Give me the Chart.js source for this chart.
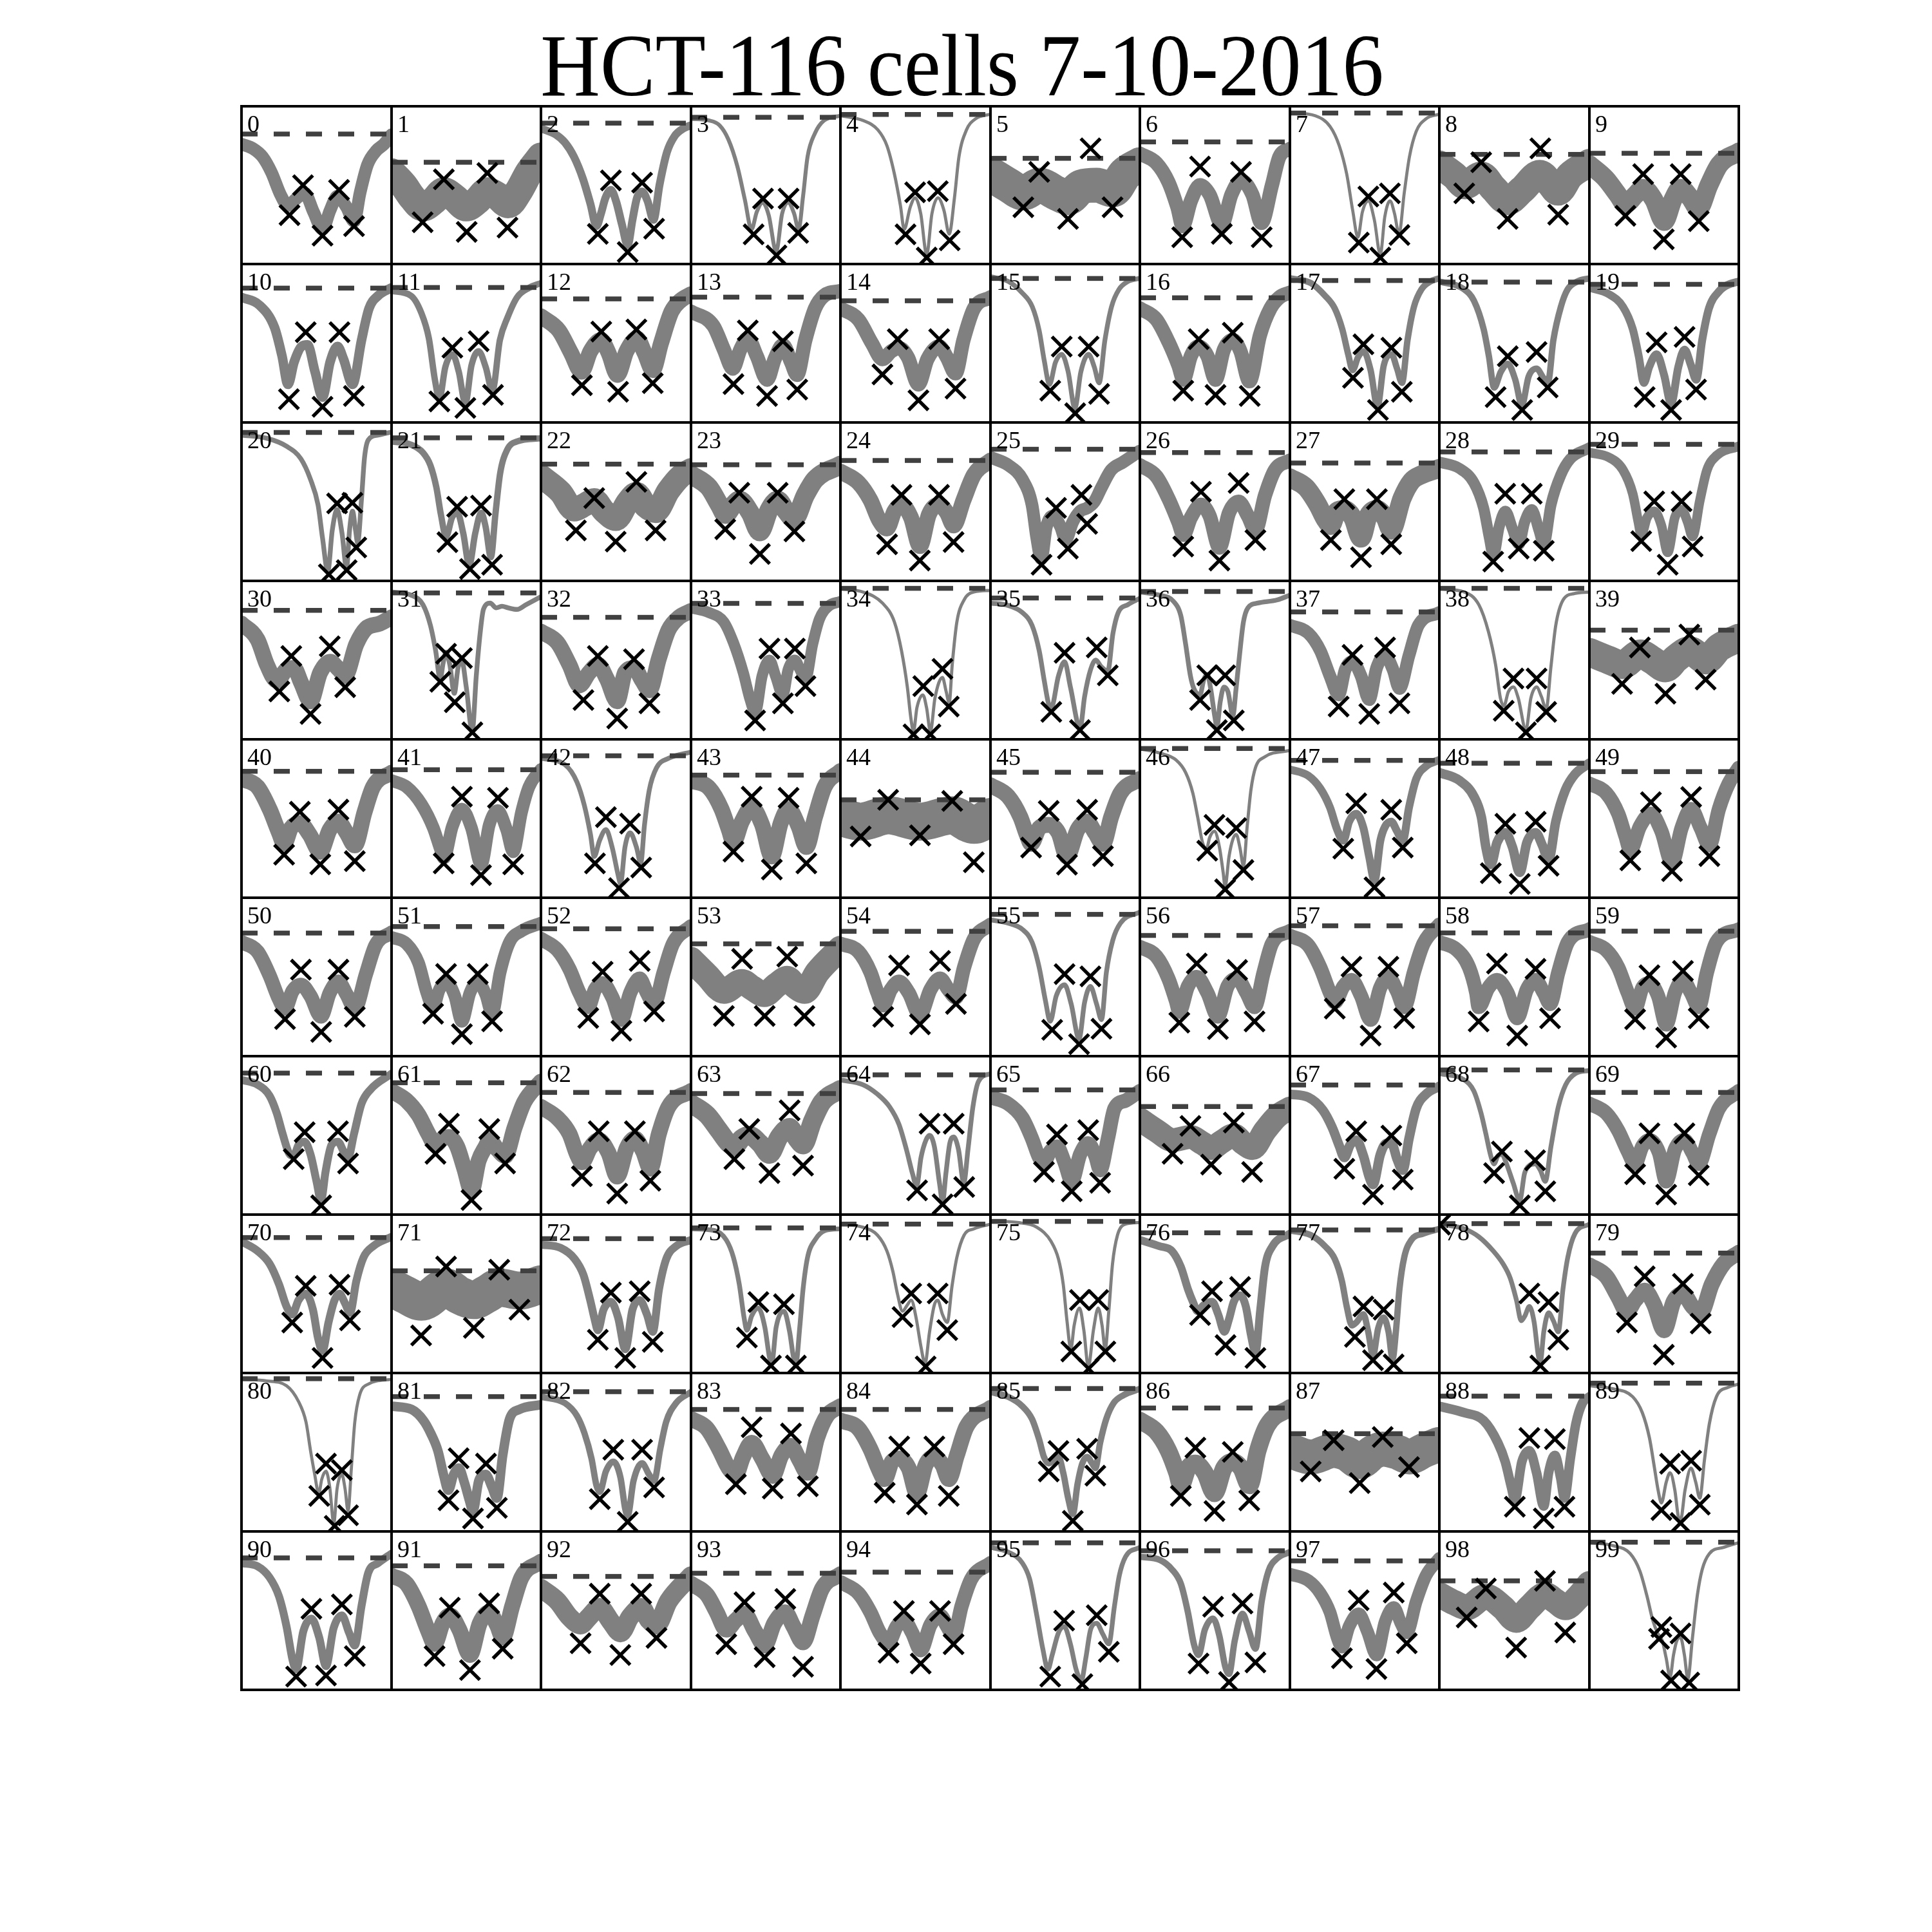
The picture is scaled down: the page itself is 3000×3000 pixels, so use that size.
<!DOCTYPE html>
<html>
<head>
<meta charset="utf-8">
<script src="https://cdn.jsdelivr.net/npm/chart.js@4/dist/chart.umd.min.js"></script>
<style>
html,body{margin:0;padding:0;background:#fff;}
#page{position:relative;width:3000px;height:3000px;background:#fff;overflow:hidden;}
.panel{position:absolute;}
.panel canvas{display:block;}
.gl{position:absolute;background:#000;}
.lbl{position:absolute;font-family:"Liberation Serif","DejaVu Serif",serif;font-size:38px;line-height:1;color:#000;white-space:nowrap;}
#title{position:absolute;left:0;top:33px;width:2988px;text-align:center;font-family:"Liberation Serif","DejaVu Serif",serif;font-size:138px;line-height:1;color:#000;white-space:nowrap;transform:scaleX(0.93);transform-origin:50% 50%;}
</style>
</head>
<body>
<div id="page"></div>
<script>
const chartTitle = "HCT-116 cells 7-10-2016";
const panelLabels = ["0","1","2","3","4","5","6","7","8","9","10","11","12","13","14","15","16","17","18","19","20","21","22","23","24","25","26","27","28","29","30","31","32","33","34","35","36","37","38","39","40","41","42","43","44","45","46","47","48","49","50","51","52","53","54","55","56","57","58","59","60","61","62","63","64","65","66","67","68","69","70","71","72","73","74","75","76","77","78","79","80","81","82","83","84","85","86","87","88","89","90","91","92","93","94","95","96","97","98","99"];
// baseline (dashed) level per panel
const dashLevels = [82.4,64.5,89.3,93,94.8,67.0,77.4,95.7,69.5,70.2,
84.8,85.2,78.0,79.1,76.8,90.9,78.7,89.6,88.6,87.2,
93.7,90.3,73.7,73.3,76.0,83.1,81.0,74.4,81.4,86.2,
81.4,92.4,77.0,85.8,95.3,89.2,93.3,80.4,95.3,68.9,
79.8,80.8,89.6,77.4,61.8,79.2,94.2,86.7,84.9,79.6,
77.7,81.8,80.4,70.9,78.8,89.5,76.2,82.3,77.8,78.9,
89.3,83.2,77.1,76.4,88.2,78.7,68.2,81.8,91.3,77.1,
85.5,64.5,84.8,91.6,94.0,95.7,88.5,90.3,94.3,75.7,
96.4,85.1,88.2,77.0,77.0,90.2,77.9,61.7,85.4,93.6,
83.3,78.3,71.6,73.6,74.3,92.8,87.8,81.4,68.8,93.2];
// noise band thickness per panel (y units)
const noiseBand = [8,18,5,2.5,2,22,9,1.5,18,12,
6,4,10,9,9,3,9,4,4,5,
3,4,15,12,10,8,9,12,7,6,
10,3,10,7,2,3,3,8,2,18,
10,8,3,10,24,10,2,5,6,9,
9,8,9,16,9,3,9,9,9,9,
5,10,10,12,3,9,15,6,3,9,
5,24,5,3,2,2,5,4,3,10,
1.5,6,4,10,10,4,11,22,6,2,
5,10,12,10,9,3,4,8,16,2];

const trace0=[[0,76],[8,73],[14,68],[20,58],[26,44],[31,37],[36,41],[42,45],[48,33],[54,22],[59,34],[64,43],[70,36],[75,27],[79,45],[84,63],[90,72],[95,76],[100,82]];
const marks0=[[32,31],[41,50],[54,18],[65,47],[75,24]];
const trace1=[[0,58],[8,50],[14,42],[21,36],[28,40],[35,46],[42,42],[50,36],[57,40],[64,46],[71,43],[78,38],[85,46],[92,58],[100,68]];
const marks1=[[20.8,26.5],[35,53.7],[50.3,20.4],[64.1,57.7],[77.6,23.1]];
const trace2=[[0,86],[10,82],[16,77],[22,68],[28,54],[33,38],[37,24],[40,32],[43,42],[46.6,47],[50,40],[54,25],[57.8,12],[61,28],[64,42],[67.4,46],[71,40],[75,28],[79,50],[84,71],[89,81],[95,86],[100,88]];
const marks2=[[37.9,19.1],[46.6,53],[57.8,7.6],[67.4,51.6],[75.4,22.4]];
const trace3=[[0,92],[12,91],[19,88],[25,79],[31,62],[36,41],[40.5,22],[44,33],[48,39],[52,31],[57,8],[61,32],[65,39],[69,32],[72,22],[75,43],[78,68],[83,83],[89,91],[100,94]];
const marks3=[[41.9,18.8],[48.2,41.5],[57.2,5.5],[65.3,41.5],[71.7,19.7]];
const trace4=[[0,94],[15,91],[25,85],[31,75],[36,57],[40,37],[42.5,22],[46.5,36],[49.8,42],[53.5,32],[57.5,6],[61,32],[65,42],[69,34],[72.5,19],[76,42],[79,68],[84,85],[90,92],[100,95]];
const marks4=[[43.4,18.8],[49.8,45.5],[57.5,4.1],[64.9,46.2],[72.8,15]];
const trace5=[[0,57],[12,50],[22,45],[33,50],[44,45],[52,42],[61,49],[71,50],[82,47],[90,57],[100,63]];
const marks5=[[22,36],[32.6,58.4],[51.9,28.6],[67,73.3],[81.7,36]];
const trace6=[[0,70],[11,64],[19,52],[25,36],[28.5,24],[34,40],[40,50],[46.5,44],[54.6,25],[61,44],[67.4,53],[75,44],[81,26],[88,50],[93,68],[100,73]];
const marks6=[[28.2,17],[40.1,61.8],[54.6,19.1],[67.4,58.4],[81.2,17]];
const trace7=[[0,96],[17,94],[27,87],[33,75],[38,57],[42,34],[45.5,17],[48.5,33],[52.5,40],[56.5,28],[60.5,6],[63.5,30],[67,40],[70,32],[73,19],[76.5,45],[80,68],[84.5,84],[91,92],[100,95]];
const marks7=[[46.1,13.6],[52.5,42.8],[60.5,4.1],[66.9,44.8],[73.3,18.4]];
const trace8=[[0,63],[10,56],[17,50],[28,56],[36,48],[45.5,40],[55,47],[67,57],[74,51],[79,46],[87,56],[100,64]];
const marks8=[[16.6,44.8],[27.9,64.5],[45.5,28.6],[67.3,73.3],[79.2,31.3]];
const trace9=[[0,63],[11,54],[19,44],[24,38],[31,44],[36,48],[43,41],[50,27],[56,41],[61,48],[67.5,42],[73,35],[80,50],[87,63],[100,71]];
const marks9=[[24.1,30.6],[36,57],[49.8,15.7],[61.1,57],[73.2,27.2]];
const trace10=[[0,79],[12,74],[22,60],[27,42],[31,24],[35,38],[40,48],[44,49],[49,32],[54,16],[59,38],[64,48],[68,40],[74,24],[80,52],[85,72],[91,80],[100,85]];
const marks10=[[31.6,14.7],[42.8,57],[54,9.9],[65.3,57],[74.9,16.7]];
const trace11=[[0,83],[13,80],[20,69],[25,53],[29,27],[32,15],[36,35],[40.7,43],[45,32],[49.4,12],[53.5,36],[58.3,45],[63,35],[67.5,20],[72.5,52],[77.5,66],[84,79],[92,85],[100,88]];
const marks11=[[32,13.3],[40.7,47.2],[49.4,9.2],[58.3,51.3],[67.9,17.4]];
const trace12=[[0,67],[12,58],[20,44],[27,32],[33,45],[40,52],[45,44],[51,30],[57,45],[64,53],[69,44],[74.5,33],[80,50],[87,70],[93,77],[100,81]];
const marks12=[[27.3,23.5],[40.2,57.4],[51.4,19.4],[63.6,58.7],[74.5,24.8]];
const trace13=[[0,70],[15,61],[22,46],[28,34],[33,46],[38,53],[44,42],[51,27],[56,40],[61.5,49],[67,38],[71,30],[76.5,52],[83,72],[89,80],[100,83]];
const marks13=[[28.4,24.2],[38,58.1],[50.9,16.7],[61.5,51.3],[71.1,20.8]];
const trace14=[[0,72],[12,65],[21,50],[28,40],[34,45],[39,47],[45,41],[52,24],[58,40],[65.8,48],[71,41],[76.7,31],[82,52],[89,72],[100,79]];
const marks14=[[28,30.3],[38.2,52.6],[52,14],[65.8,52.6],[76.7,21.4]];
const trace15=[[0,92],[12,89],[21,82],[28,73],[32.6,58],[36,39],[39.5,24],[43.5,38],[47.7,43],[52,32],[56.5,9],[60.5,32],[65.7,43],[69.5,35],[72.7,25],[76.6,52],[81,73],[86,84],[92,89],[100,91]];
const marks15=[[40,20.1],[47.7,47.9],[56.7,5.8],[65.7,47.9],[72.7,18]];
const trace16=[[0,72],[11,65],[19,51],[25.7,36],[29,27],[34,42],[39,48],[45,42],[50.4,27],[56,46],[62,52],[67,45],[73,26],[80,55],[87,72],[93,79],[100,82]];
const marks16=[[28.9,20.1],[39.2,52.6],[50.4,17.4],[61.9,56.7],[73.2,16.7]];
const trace17=[[0,91],[14,88],[23.5,80],[30,72],[35,59],[39,43],[42,33],[45.5,41],[49.2,45],[54,33],[58.6,10],[62.8,36],[68,43],[71.7,34],[75,25],[78.7,52],[83,73],[88,84],[94,89],[100,91]];
const marks17=[[42.2,28.2],[49.2,49.3],[58.9,7.9],[67.9,47.2],[74.9,19.4]];
const trace18=[[0,89],[16.6,84],[23,77],[29.5,59],[33,42],[36.5,22],[41,32],[45.6,37],[50.6,27],[55,11],[59.5,29],[64.8,34],[69.5,28],[72.5,26],[76,52],[81,73],[85.5,84],[92,89],[100,91]];
const marks18=[[37.5,16],[45.6,41.8],[55.2,7.9],[64.8,44.5],[72.2,22.1]];
const trace19=[[0,85],[13,81],[22.5,73],[29,59],[33,42],[36.5,25],[40,35],[45,43],[50,30],[54.7,12],[59.5,35],[63.7,46],[68,36],[71.5,27],[75.5,52],[80,72],[87,83],[93,87],[100,89]];
const marks19=[[37,16],[45,50.6],[54.7,7.9],[63.7,54],[71.4,20.8]];
const trace20=[[0,92],[17,90],[30,85],[39.6,77],[46,64],[51,48],[54,27],[57.5,6],[60.5,32],[63.7,45],[67,30],[70,8],[72,32],[74,44],[76,32],[77.4,24],[80,52],[82,78],[84.5,89],[91,92],[100,94]];
const marks20=[[58.2,4.1],[63.7,48.9],[70.1,6.8],[73.9,49.3],[76.5,21.1]];
const trace21=[[0,88],[13,86],[21,81],[26,73],[30,59],[33,42],[36.5,28],[40.5,40],[44,43],[48,30],[52,10],[56,30],[60,43],[63,34],[66.5,15],[69.5,42],[72.7,68],[77.5,83],[84,88],[100,90]];
const marks21=[[37.4,24.4],[43.9,46.8],[52.5,7.5],[59.9,47.5],[67.3,10.2]];
const trace22=[[0,66],[13,56],[22,45],[29,48],[35.5,51],[42,44],[50,39],[58,50],[63.6,55],[70,47],[76.4,44],[85,57],[93,66],[100,70]];
const marks22=[[23.3,31.9],[35.5,52.3],[49.8,24.8],[63.6,62.5],[76.4,31.9]];
const trace23=[[0,67],[12,59],[19,48],[23,42],[28.4,48],[32.3,51],[39.6,43],[46,31],[52.4,45],[58,51],[63.7,44],[69,39],[76.5,54],[83,64],[100,73]];
const marks23=[[22.9,32.6],[32.3,55.6],[46.1,17],[58,55.6],[69.2,31.2]];
const trace24=[[0,69],[12,62],[20,51],[26,38],[31,33],[36,44],[40.7,48],[47,40],[53,22],[59,42],[65.7,48],[71,43],[75.4,35],[82,51],[89,67],[100,76]];
const marks24=[[31.1,23.1],[40.7,54.3],[52.9,12.9],[65.7,54.3],[75.4,24.5]];
const trace25=[[0,78],[12,73],[21.4,64],[27.8,48],[31,27],[34,14],[37.4,34],[42,41],[47,34],[50.3,26],[55,37],[60,44],[64.7,46],[69.5,50],[74.3,59],[80.8,70],[88.8,75],[100,82]];
const marks25=[[34.2,10.2],[43.9,46.1],[51.8,20.4],[60.9,54.3],[64.7,36]];
const trace26=[[0,73],[11,66],[19,52],[25.7,37],[29,29],[34,40],[40.7,48],[46.5,41],[53,21],[59.4,43],[65.8,50],[72,41],[77,32],[83.4,54],[90,70],[100,76]];
const marks26=[[28.9,21.7],[40.7,56.3],[53,12.9],[65.8,61.8],[77,25.8]];
const trace27=[[0,65],[10.7,59],[18.7,48],[23.6,39],[27.4,35],[31.6,44],[36.4,45],[42,40],[47.6,27],[52.4,41],[58.2,45],[63.7,40],[67.8,32],[75,52],[81.4,63],[88,67],[100,71]];
const marks27=[[27.4,25.8],[36.4,51.6],[47.6,14.9],[58.2,51.6],[67.8,23.1]];
const trace28=[[0,75],[13.4,71],[23,62],[29.5,46],[33.4,27],[36,16],[39.8,34],[44,44],[48.7,33],[53,23],[56.8,37],[61.6,45],[66.4,32],[69.6,23],[74.4,48],[81,67],[87.3,77],[100,84]];
const marks28=[[35.9,12.2],[43.9,55],[52.9,20.4],[61.6,55],[69.6,19]];
const trace29=[[0,81],[13,78],[22.5,70],[29,55],[32.8,37],[34.7,29],[38.6,40],[43.4,44],[48.2,35],[52.4,18],[57.2,40],[61.7,45],[65.8,37],[69,28],[74,51],[78.7,70],[85,79],[100,85]];
const marks29=[[34.7,25.1],[43.4,50.2],[52.4,10.2],[61.7,50.2],[69.1,21.7]];
const trace30=[[0,73],[10.7,63],[17,47],[23.5,37],[30,44],[35,45],[39.6,36],[46,24],[52.4,42],[59,49],[65,44],[69,40],[76.5,60],[83,70],[92,73],[100,77]];
const marks30=[[25.2,30.2],[33.2,52.6],[46,16],[58.8,58.7],[69.1,32.9]];
const trace31=[[0,93],[13,91],[21,85],[26,72],[29.5,56],[32.6,38],[34.5,48],[36.5,55],[39,47],[42,29],[44.5,45],[47,50],[50,33],[54,5],[56.7,40],[59.3,67],[61.5,82],[66,86],[70,83],[74,84],[78,83],[84,82],[90,85],[100,90]];
const marks31=[[32.6,36.3],[36.5,54],[42.3,23.4],[47.1,51.3],[54.1,4.4]];
const trace32=[[0,68],[11,61],[19,47],[25.6,34],[32,42],[38,47],[44,38],[50.8,24],[56,42],[62,45],[67.5,37],[72.3,31],[78.6,51],[85,69],[92,77],[100,81]];
const marks32=[[28.3,24.8],[37.9,52.6],[50.8,13.2],[62,50.6],[72.3,22.7]];
const trace33=[[0,83],[12,80],[22,74],[28.4,61],[35,42],[39.6,25],[43,17],[47.6,40],[52.5,50],[56.6,40],[61.5,28],[65,44],[69.5,50],[73,44],[76.6,38],[81.4,60],[86,76],[92,84],[100,87]];
const marks33=[[42.9,11.9],[52.5,57.3],[61.5,22.7],[69.5,57.3],[76.6,33.6]];
const trace34=[[0,95],[15,93],[28,86],[36,74],[40.7,56],[44.6,33],[47,13],[48.7,5],[51,20],[55,28],[57.4,20],[60,5],[63,26],[68,39],[70.5,30],[72.5,23],[74.5,47],[77.6,74],[82.4,88],[89,93],[100,94]];
const marks34=[[48.7,3.1],[55.2,33.6],[60,3.1],[68,44.5],[72.2,20.7]];
const trace35=[[0,86],[11.8,84.5],[21.4,80],[27.8,72],[32.6,56],[36,37],[39,22],[40.7,20],[45.5,40],[49.6,49],[53.5,33],[60,7],[63,27],[67,44],[70.5,50],[74,46],[78.5,43],[82,67],[85.5,80],[92,85],[100,89]];
const marks35=[[40.7,17.3],[49.6,54.6],[59.9,5.8],[71.1,58],[78.5,40.4]];
const trace36=[[0,93],[13,91],[22.5,87],[27.3,78],[30.5,60],[33.7,40],[36,32],[40,28],[42.7,38],[45,41],[47,33],[50,14],[51.3,8],[53.6,24],[56,33],[58.7,30],[62,15],[64,31],[66.4,53],[69,74],[72,83],[78.6,86],[91.5,88],[100,91]];
const marks36=[[40.1,24.8],[44.9,40.4],[51.3,5.8],[56.8,40.4],[62.6,11.9]];
const trace37=[[0,72],[12.3,67],[20.3,56],[26.8,40],[32.6,28],[37,44],[42,49],[47.6,40],[53,25],[58,45],[63.7,53],[69,44],[73.3,32],[79.7,53],[86,72],[100,80]];
const marks37=[[32.6,20.7],[41.9,53.3],[53.1,16],[63.7,58],[73.3,22.7]];
const trace38=[[0,95],[16.6,93],[26.3,85],[32.7,68],[37.5,47],[40.7,26],[43,21],[46,30],[49.4,33],[52.6,26],[57.7,6],[61,26],[64.8,33],[68,27],[71.2,19],[74.4,46],[77.6,72],[82.5,88],[90,92],[100,93]];
const marks38=[[42.9,18],[49.4,38.4],[57.7,4.4],[64.8,38.4],[71.2,17.3]];
const trace39=[[0,55],[13,50],[22,47],[34,54],[42,50],[51,45],[58,51],[67,56],[78,50],[87,58],[100,64]];
const marks39=[[21.9,35],[33.8,58],[50.9,28.8],[66.9,66.1],[77.8,37.7]];
const trace40=[[0,75],[10.7,70],[18.7,56],[25,41],[28.4,34],[33,44],[39,47],[45.3,40],[52.5,29],[58.8,43],[64.6,48],[70,41],[75.5,33],[82,54],[87.7,70],[100,79]];
const marks40=[[28.4,27.2],[38.9,54.3],[52.5,21.1],[64.6,55.6],[75.5,23.1]];
const trace41=[[0,74],[10,70],[20,59],[28,44],[32.6,31],[35,25],[40.7,45],[47,56],[53.5,44],[60,21],[65.4,46],[71,55],[77,43],[81.4,29],[87,54],[92,70],[100,81]];
const marks41=[[34.9,21.7],[47.1,63.8],[59.9,14.3],[71.2,63.1],[81.4,21.1]];
const trace42=[[0,88],[16,84],[24,73],[29,58],[33,40],[35.5,26],[39,36],[43.3,43],[47.4,32],[51.5,14],[53,9],[56,32],[59.4,41],[63.6,32],[66.5,22],[69,46],[72.2,68],[77,82],[85,88],[100,92]];
const marks42=[[36,21.7],[43.3,50.9],[52,6.1],[59.4,46.8],[66.8,19.1]];
const trace43=[[0,74],[12.4,69],[20.4,56],[25.3,43],[28.4,35],[34,48],[40.6,57],[47.6,46],[54,26],[60,47],[65.3,56],[72,45],[77.2,32],[83,51],[89.4,70],[100,80]];
const marks43=[[28.4,29.1],[40.6,63.8],[54.1,17.8],[65.3,63.1],[77.2,21.7]];
const trace44=[[0,51],[13.5,48],[32,52],[53,48],[74.5,52],[89,46],[100,51]];
const marks44=[[13.5,38.7],[31.8,61.8],[53,39.4],[74.5,61.1],[88.9,22.4]];
const trace45=[[0,71],[11.8,64],[20,51],[24.6,39],[27.2,34],[32.6,44],[39,46],[45.5,41],[51.2,26],[58.3,43],[64.7,48],[70,41],[75.3,34],[80.8,51],[87,66],[100,75]];
const marks45=[[27.2,31.7],[39,54.8],[51.2,20.9],[64.7,55.5],[75.3,26.3]];
const trace46=[[0,94],[14.4,91],[24,87],[30.5,79],[35.3,66],[38.5,51],[41.7,35],[44.5,31],[46.5,38],[49.7,42],[53,32],[55.5,16],[56.8,7],[59.4,26],[62,37],[64.2,40],[66.8,31],[69,20],[71.6,46],[74,68],[77,82],[83.4,89],[100,93]];
const marks46=[[44.9,29.7],[49.7,46],[56.8,5.3],[64.2,44],[69,17.5]];
const trace47=[[0,81],[12.3,77],[20.3,69],[26.8,57],[31.6,43],[35.7,36],[39.6,48],[44.4,53],[49.2,44],[53,26],[56.6,11],[60.5,36],[63.7,45],[67.8,48],[71.7,42],[75.5,36],[79.7,57],[84.5,75],[91,83],[100,87]];
const marks47=[[35.7,31],[44.4,59.6],[56.6,6.6],[67.8,55.5],[75.5,31.7]];
const trace48=[[0,79],[13.4,74],[23,64],[28,51],[31,32],[34.3,21],[38.5,35],[44,41],[48.7,32],[53.6,16],[58.4,35],[64.2,41],[68.7,33],[72.8,24],[77.6,48],[84,68],[90.4,78],[100,85]];
const marks48=[[34.3,15.5],[44,46.7],[53.6,8.7],[64.2,48],[72.8,20.2]];
const trace49=[[0,72],[11.3,66],[19.3,53],[24.1,39],[27.4,30],[33.8,45],[41.2,53],[48.2,42],[55.3,22],[61.7,44],[68.1,56],[74.5,44],[80.3,33],[86.7,56],[93.2,72],[100,82]];
const marks49=[[27.4,23.6],[41.2,60.3],[55.3,16.8],[68.1,63.6],[80.3,26.3]];
const trace50=[[0,72],[10.7,66],[18.7,51],[25,36],[29,30],[34,41],[39.6,45],[46,38],[53,25],[58.8,40],[64.6,47],[70,39],[75.5,30],[83,52],[89.3,70],[100,78]];
const marks50=[[29,23.4],[39.6,54.6],[53.1,15.3],[64.6,54.6],[75.5,24.8]];
const trace51=[[0,75],[10,71],[18,59],[23.6,40],[27.8,31],[32,42],[36.5,47],[42.3,38],[47,22],[52.5,40],[57.7,47],[63,39],[67.3,27],[72.7,53],[79,72],[87,79],[100,84]];
const marks51=[[27.8,26.8],[36.5,51.9],[47.1,13.9],[57.7,51.9],[67.3,22]];
const trace52=[[0,74],[11,67],[19,55],[25.6,40],[31.5,31],[36,42],[41,46],[47.6,37],[53.6,23],[59.5,40],[65.8,49],[70.6,40],[75.4,33],[81.8,53],[88,71],[100,82]];
const marks52=[[31.5,24.1],[41.1,53.3],[53.6,16],[65.8,60.1],[75.4,28.2]];
const trace53=[[0,61],[10.7,51],[22,41],[34,47],[41,43],[49,39],[57.5,45],[64.4,49],[70,44],[76,41],[84.6,53],[100,68]];
const marks53=[[22,25.4],[34.2,61.4],[49.3,25.4],[64.4,62.8],[75.9,25.4]];
const trace54=[[0,71],[12,66],[20,53],[24.7,40],[28.5,32],[33.6,42],[39,47],[45.5,40],[53,26],[60,42],[66.4,49],[72,42],[77,37],[82.4,56],[89,74],[100,83]];
const marks54=[[28.5,24.8],[39.1,57.3],[53,20.1],[66.4,60.1],[77,33]];
const trace55=[[0,86],[11.8,84],[21.4,80],[27.8,72],[32.6,56],[36.8,35],[40,22],[44,38],[49.6,45],[54,33],[59.3,11],[63,34],[66.9,44],[71,33],[74.3,23],[77.6,53],[81.8,73],[87,84],[100,91]];
const marks55=[[41.3,16.6],[49.6,51.8],[59.3,7.6],[66.9,50.4],[74.3,17.3]];
const trace56=[[0,69],[11,63],[19,49],[24,35],[26.3,28],[32,44],[37.9,50],[45,40],[52,25],[58.4,44],[64.8,49],[71,40],[76.4,31],[82.5,53],[88,71],[100,79]];
const marks56=[[26.3,21.2],[37.9,58.5],[52,17.1],[64.8,54.4],[76.4,21.9]];
const trace57=[[0,76],[12.3,70],[20.3,56],[26.8,40],[30,34],[35.8,44],[41.2,48],[47.6,38],[54,23],[60.4,43],[65.9,50],[71.7,41],[76.5,31],[83,53],[89.4,71],[100,83]];
const marks57=[[30,30],[41.2,56.5],[54,13],[65.9,56.5],[76.5,23.9]];
const trace58=[[0,72],[11.8,67],[19.8,56],[24.6,40],[26.2,31],[32.6,43],[38.4,48],[45.4,40],[51.9,24],[58.3,42],[64.1,48],[69.6,40],[73.8,33],[79.3,53],[85.7,72],[100,80]];
const marks58=[[26.2,21.9],[38.4,58.5],[51.9,13],[64.1,55.1],[73.8,23.9]];
const trace59=[[0,72],[11.3,67],[19.3,56],[25.7,40],[30.6,30],[35.4,43],[40.2,46],[46,38],[51.4,20],[57.2,40],[62.6,48],[68,40],[73.2,31],[78.7,53],[85,72],[100,80]];
const marks59=[[30.6,23.3],[40.2,51.1],[51.4,11.7],[62.6,53.8],[73.2,23.9]];
const trace60=[[0,85],[10.7,82],[18.7,75],[23.5,64],[27.4,51],[31.5,39],[34.8,37],[38,44],[42,46],[46,38],[50,21],[53,9],[56,27],[60,44],[64.3,46],[68,40],[71,36],[75,51],[80,70],[86,79],[100,89]];
const marks60=[[34.8,35],[42.1,52],[53.1,5.8],[64.3,52.6],[71,32.3]];
const trace61=[[0,78],[10,72],[18,63],[24.6,51],[29.4,44],[34.2,48],[38.4,49],[43.9,43],[48.7,29],[53.5,15],[58.3,34],[63,43],[65.4,47],[71,41],[76,37],[82.4,55],[88.8,71],[100,84]];
const marks61=[[29.4,38.4],[38.4,57.4],[53.5,9.2],[65.4,54],[76,32.3]];
const trace62=[[0,68],[11,61],[19,51],[24,38],[27.3,33],[32.8,42],[38.5,47],[45,39],[50.8,24],[57.2,42],[62.6,48],[68,40],[72.9,29],[78.6,51],[85,68],[100,78]];
const marks62=[[27.3,24.2],[38.5,52.6],[50.8,13.3],[62.6,52.6],[72.9,21.4]];
const trace63=[[0,70],[10.7,63],[18.8,53],[25.2,45],[29,43],[34,48],[39,50],[46,45],[52.5,38],[59,49],[66,55],[70.8,48],[75,44],[81.4,59],[87.8,71],[100,79]];
const marks63=[[29,35],[39,54],[52.5,26.2],[66,65.8],[75,30.9]];
const trace64=[[0,85],[15,82],[24.7,76],[32.8,68],[39,57],[44,41],[48,26],[50.8,18],[53.7,36],[57,47],[59.4,50],[62.6,43],[66,20],[68.1,8],[70.3,26],[72.9,45],[75.5,49],[78.7,41],[82.2,20],[85,41],[88.3,68],[92,84],[100,89]];
const marks64=[[51.1,15.3],[59.4,57.4],[68.1,6.5],[75.5,57.4],[82.5,17.4]];
const trace65=[[0,74],[11.8,70],[21.4,61],[27.8,48],[32.6,36],[35.8,33],[40,40],[44.5,43],[49.6,33],[54.4,21],[60,38],[65.4,45],[70.2,37],[73.4,28],[78.6,48],[83,67],[90.5,72],[100,78]];
const marks65=[[35.8,26.9],[44.5,50.6],[54.4,14.7],[65.4,53.3],[73.4,20.1]];
const trace66=[[0,60],[11,53],[22,47],[33.7,49],[41.7,45],[47.5,42],[54.6,46],[62.6,50],[69,45],[75,42],[83.4,53],[91.5,62],[100,67]];
const marks66=[[21.8,38.4],[33.7,56],[47.5,31.6],[62.6,58.1],[74.8,26.9]];
const trace67=[[0,76],[12.3,74],[22,66],[28.3,55],[33.2,43],[36.4,36],[40.3,44],[44.4,47],[49.2,37],[53,24],[55.6,19],[60.5,38],[64.7,45],[68,45],[71.7,35],[75.5,28],[79.7,48],[84.5,67],[91,76],[100,81]];
const marks67=[[36.4,28.9],[44.4,52.6],[55.6,12.6],[67.9,49.9],[75.5,22.1]];
const trace68=[[0,89],[16.6,85],[23,78],[27.8,64],[31,51],[34.3,37],[36.5,32],[39,37],[41.7,38],[44.8,32],[49.2,20],[53.6,9],[56.8,26],[60,31],[63.8,32],[67.3,28],[70.6,21],[74.4,43],[79.3,68],[84.2,82],[90.6,89],[100,91]];
const marks68=[[36.5,26.2],[41.7,39.8],[53.6,5.8],[63.8,34.3],[70.6,14.7]];
const trace69=[[0,70],[11.3,64],[19.3,53],[25.7,40],[30.6,32],[35.4,43],[40.2,47],[46.6,39],[51.4,21],[57.2,41],[63.6,47],[69,39],[73.2,32],[80.3,51],[86.7,67],[100,78]];
const marks69=[[30.6,25.5],[40.2,51.3],[51.4,12.6],[63.6,51.3],[73.2,24.8]];
const trace70=[[0,83],[10.7,77],[18.7,69],[25,56],[30,42],[33.8,37],[38,46],[42.8,50],[47.6,40],[51,22],[54,14],[58,32],[62,46],[65.3,50],[69,44],[72.3,38],[76.5,58],[81.3,73],[87.7,80],[100,86]];
const marks70=[[33.8,31.9],[42.8,55],[54,9.5],[65.3,55.7],[72.3,33.3]];
const trace71=[[0,54],[10,49],[20,45],[36.5,54],[45.5,49],[55,46],[64,50],[72,54],[85.6,52],[100,56]];
const marks71=[[19.8,23.7],[36.5,67.2],[55.1,28.5],[72.1,65.2],[85.6,40]];
const trace72=[[0,81],[13,79],[22.5,72],[28.3,62],[32.8,46],[36,33],[37.9,27],[41.7,40],[46.6,45],[51.4,35],[56.2,15],[61,40],[65.8,46],[70.6,37],[74.5,26],[78.7,53],[83.5,72],[90,80],[100,84]];
const marks72=[[37.9,21],[46.6,50.8],[56.2,9.5],[65.8,51.6],[74.5,19.7]];
const trace73=[[0,91],[15.6,90],[23.6,84],[28.4,73],[32.3,56],[35.5,35],[37.4,27],[40.6,36],[45,41],[49.4,29],[52.5,10],[54,6],[57,29],[62.2,39],[66,26],[68.6,10],[70.2,6],[72.8,29],[75,53],[78,73],[83,84],[90,90],[100,91]];
const marks73=[[37.4,22.4],[45.1,44.8],[53.5,4.7],[62.2,43.4],[70.2,4.7]];
const trace74=[[0,94],[15,92],[24.7,87],[31,77],[35,64],[38,50],[41.4,39],[44.6,43],[47.2,46],[50.4,35],[53.6,17],[56.4,6],[59.4,26],[62.6,43],[64.8,46],[68,37],[71.2,32],[74.4,55],[77.6,73],[82.4,87],[89,91],[100,94]];
const marks74=[[41.4,35.3],[47.2,50.2],[56.8,4.1],[64.8,50.2],[71.2,27.1]];
const trace75=[[0,96],[18,95],[31,92],[40.6,83],[45.5,72],[48.7,56],[51.2,33],[53.8,15],[56,30],[59.6,41],[62.5,27],[65.5,4],[68.9,27],[72.1,41],[74.7,30],[76.8,15],[79.2,39],[81.7,69],[85,87],[90.5,94],[100,95]];
const marks75=[[54.1,13.6],[59.9,46.1],[65.7,2.7],[72.1,46.1],[76.9,13.6]];
const trace76=[[0,84],[13.3,80],[21.4,77],[27.3,67],[32,53],[35.3,45],[38.5,39],[42.7,43],[48.1,45],[52.2,37],[56.3,26],[59.4,34],[62.6,45],[66.8,49],[70.6,42],[74,24],[77,13],[80.2,40],[83.4,67],[88.3,80],[100,88]];
const marks76=[[40.1,36.6],[48.1,51.6],[57.1,17.6],[66.8,54.3],[77,9.5]];
const trace77=[[0,90],[14,87],[23.5,80],[30,72],[34.8,58],[38,42],[41.5,30],[44.5,32],[49.2,37],[52.4,26],[55.6,11],[59,28],[62.7,35],[66,26],[68.7,9],[71,27],[73.3,53],[76.5,73],[81.3,84],[89.3,88],[100,91]];
const marks77=[[43.5,22.8],[49.2,42],[55.6,8.1],[62.7,40],[69.4,5.4]];
const trace78=[[0,94],[16.6,91],[26.3,86],[36,77],[42.4,69],[47.2,60],[51.4,46],[54.6,33],[57,36],[60,42],[63.2,32],[65.8,12],[67.3,7],[69.6,26],[72.8,38],[76,33],[79.3,26],[82.4,53],[85.6,73],[90.4,88],[100,94]];
const marks78=[[0.5,93.6],[60,50.2],[67.3,4.7],[72.8,44.8],[79.3,21]];
const trace79=[[0,68],[11.3,61],[19.3,48],[25,39],[30.6,46],[37,52],[43.4,43],[50,27],[56.3,45],[62.6,50],[69,42],[74.5,38],[81.9,56],[89.9,69],[100,76]];
const marks79=[[25.1,31.9],[37,61],[49.8,11.5],[62.6,56.3],[74.5,31.2]];
const trace80=[[0,96],[17,95],[30,92],[38,82],[43,69],[46,51],[48.6,37],[51.5,24],[53.5,33],[56.3,38],[58.8,28],[61.5,5],[63.7,27],[66.9,36],[69,27],[71,13],[73.3,41],[75.5,69],[78.7,86],[84.5,93],[100,96]];
const marks80=[[51.8,22.4],[56.3,42.8],[62.1,3.5],[66.9,38.7],[71,10.2]];
const trace81=[[0,79],[13.4,77],[21.4,70],[26.2,62],[31,51],[35,35],[38,26],[41.6,36],[45,40],[48.7,31],[52,20],[54.5,13],[58.4,32],[63,36],[67.2,28],[70.5,21],[74.4,48],[79,71],[85.6,77],[100,80]];
const marks81=[[38.1,19.7],[44.9,46.2],[54.5,8.2],[63.2,42.8],[70.5,14.9]];
const trace82=[[0,85],[16,81],[24,73],[29,62],[33.7,46],[37,29],[39.2,25],[43.3,38],[48.2,44],[53,34],[56.2,14],[57.8,10],[61.7,32],[67.4,43],[72,36],[75.4,32],[79.5,52],[83.4,69],[90,81],[100,88]];
const marks82=[[39.2,20.4],[48.2,51.6],[57.8,6.1],[67.4,51.6],[75.4,27.8]];
const trace83=[[0,71],[10.7,65],[18.8,52],[25.2,40],[30,36],[34.8,47],[40.6,56],[47.6,46],[54.7,35],[60.5,48],[66.9,54],[72.6,45],[78,37],[84.4,59],[91,73],[100,79]];
const marks83=[[30,29.8],[40.6,65.8],[54.7,27.1],[66.9,61.8],[78.2,28.5]];
const trace84=[[0,70],[12,65],[20,52],[25.7,39],[29.5,33],[34.3,44],[39.2,46],[45.5,40],[51,24],[56.8,42],[62.6,47],[68,42],[72.2,33],[77.6,48],[84,66],[100,78]];
const marks84=[[29.5,24.4],[39.2,53.6],[51,17],[62.6,53.6],[72.2,22.4]];
const trace85=[[0,88],[11.8,85],[21.4,79],[27.8,71],[32.6,58],[35.8,47],[39,43],[42.3,45],[45.5,47],[48.7,37],[52,21],[55.1,11],[58.3,30],[61.5,43],[64.7,47],[68,43],[70.2,40],[73.4,56],[77.5,71],[82.4,81],[89,86],[100,90]];
const marks85=[[39,37.9],[45.5,50.8],[55.1,6.7],[64.7,52.2],[70.2,35.2]];
const trace86=[[0,70],[11,63],[19,51],[24.7,37],[27.3,29],[32,40],[37,43],[43.3,37],[49.7,24],[56,40],[62,44],[67.4,40],[73,29],[78.6,51],[85,67],[100,78]];
const marks86=[[27.3,22.4],[37,52.9],[49.7,12.9],[61.9,50.2],[72.9,19.6]];
const trace87=[[0,51],[14,47],[29.3,51],[38,49],[46.7,44],[55.7,50],[62,52],[72,50],[80,47],[89.4,51],[100,55]];
const marks87=[[13.9,37.9],[29.3,57.6],[46.7,30.5],[62.1,59.6],[79.7,40.6]];
const trace88=[[0,79],[16.6,75],[29.5,70],[39,56],[43.9,44],[48,28],[50.3,20],[55,44],[60,51],[64.8,37],[69.6,16],[72.8,37],[77,48],[80.8,34],[83.4,21],[87.3,46],[91,68],[95.3,81],[100,85]];
const marks88=[[50.3,15.6],[60,59],[69.6,8.2],[77,58.3],[83.4,15.6]];
const trace89=[[0,92],[16,90],[29,85],[35.4,75],[40.2,59],[43.4,41],[46,26],[48.2,18],[51.4,31],[54,37],[57.2,26],[59.4,10],[61,7],[64,26],[68,40],[71.2,31],[73.9,21],[77,45],[80.3,68],[85,85],[93,91],[100,93]];
const marks89=[[48.2,13.5],[54,42.7],[61,5.3],[68.1,44.7],[73.9,16.9]];
const trace90=[[0,80],[10.7,78],[18.7,71],[25,59],[30,40],[34,19],[36.4,13],[41.2,37],[46.6,45],[51.8,33],[56.3,15],[61.4,39],[66.9,47],[71.7,36],[75.5,28],[80,53],[84.5,74],[91,80],[100,86]];
const marks90=[[36.4,8.4],[46.6,51.2],[56.3,9.1],[66.9,53.9],[75.5,21.3]];
const trace91=[[0,72],[10,67],[18,53],[24.6,37],[28.8,29],[34.2,42],[39,47],[45.4,38],[52.5,22],[59,42],[65.3,49],[70.5,41],[74.4,33],[80.8,53],[87,71],[100,81]];
const marks91=[[28.8,21.3],[39,51.9],[52.5,12.5],[65.3,54.6],[74.4,26]];
const trace92=[[0,64],[11,56],[19,46],[26.4,41],[32,46],[39,52],[46.6,43],[53,36],[59.4,46],[66.8,52],[72,44],[77,41],[85,56],[100,72]];
const marks92=[[26.4,29.4],[39.2,60.7],[52.9,22],[66.8,60.7],[77,32.8]];
const trace93=[[0,67],[10.7,60],[17.2,49],[23.6,38],[30,44],[35.8,48],[42.8,37],[49.3,28],[55.7,42],[63,49],[68.6,40],[75,30],[81.4,47],[87.8,64],[100,73]];
const marks93=[[23.6,28.8],[35.8,55.3],[49.3,20.6],[63.1,57.4],[75,14.6]];
const trace94=[[0,68],[12,61],[20,49],[26.3,36],[32,30],[37.5,40],[42.3,44],[47.8,36],[53.5,25],[60,41],[66.4,47],[71.2,40],[75.4,34],[80.8,53],[87.2,70],[100,80]];
const marks94=[[32.1,23.4],[42.3,49.8],[53.5,16.6],[66.4,49.8],[75.4,28.8]];
const trace95=[[0,90],[11.8,87],[21.4,80],[26.2,70],[31,47],[35,26],[38.5,13],[41.3,22],[45.5,36],[49.3,40],[53.5,29],[57.3,13],[60.8,6],[63.8,20],[67,38],[71.1,42],[75.3,35],[79.2,29],[83,53],[86.2,72],[90.4,84],[100,90]];
const marks95=[[40,8.4],[49.3,43.7],[61.5,3.6],[71.1,47.1],[79.2,24]];
const trace96=[[0,84],[13.3,82],[21.4,76],[27.3,67],[32,49],[36,29],[39.1,22],[43.3,38],[48.8,45],[53,34],[56.8,15],[59.4,10],[63.2,31],[68.4,48],[72.8,37],[77,26],[81.2,56],[85.7,75],[91.5,83],[100,87]];
const marks96=[[39.1,16.6],[48.8,52.5],[59.4,4.9],[68.4,54.5],[77,17.3]];
const trace97=[[0,73],[12.3,69],[20.3,61],[26.8,49],[31.6,33],[34.8,27],[39.6,40],[46,48],[51.8,37],[58,22],[63.7,43],[69.5,52],[74.3,42],[78.2,36],[84.6,56],[91,72],[100,83]];
const marks97=[[34.8,20],[46,56.6],[57.9,13.2],[69.5,61.4],[78.2,29.4]];
const trace98=[[0,60],[10,55],[18.2,52],[31,59],[42.3,52],[51.2,44],[60,52],[70.4,60],[77.5,56],[84,52],[92,58],[100,67]];
const marks98=[[18.2,45.7],[31,64],[51.2,26.7],[70.4,68.8],[83.9,36.2]];
const trace99=[[0,93],[16,91],[27.3,86],[33.8,75],[38.6,59],[42.4,44],[45.6,36],[48.8,31],[51.4,20],[54,8],[56.3,22],[58.5,31],[61,33],[63.6,22],[65.9,7],[69,33],[72.3,60],[75.5,76],[80.3,86],[90,90],[100,93]];
const marks99=[[48.2,39.7],[46.6,32.2],[61,35.6],[54.7,5.9],[66.8,4.6]];

const traces=[trace0,trace1,trace2,trace3,trace4,trace5,trace6,trace7,trace8,trace9,trace10,trace11,trace12,trace13,trace14,trace15,trace16,trace17,trace18,trace19,trace20,trace21,trace22,trace23,trace24,trace25,trace26,trace27,trace28,trace29,trace30,trace31,trace32,trace33,trace34,trace35,trace36,trace37,trace38,trace39,trace40,trace41,trace42,trace43,trace44,trace45,trace46,trace47,trace48,trace49,trace50,trace51,trace52,trace53,trace54,trace55,trace56,trace57,trace58,trace59,trace60,trace61,trace62,trace63,trace64,trace65,trace66,trace67,trace68,trace69,trace70,trace71,trace72,trace73,trace74,trace75,trace76,trace77,trace78,trace79,trace80,trace81,trace82,trace83,trace84,trace85,trace86,trace87,trace88,trace89,trace90,trace91,trace92,trace93,trace94,trace95,trace96,trace97,trace98,trace99];
const marks=[marks0,marks1,marks2,marks3,marks4,marks5,marks6,marks7,marks8,marks9,marks10,marks11,marks12,marks13,marks14,marks15,marks16,marks17,marks18,marks19,marks20,marks21,marks22,marks23,marks24,marks25,marks26,marks27,marks28,marks29,marks30,marks31,marks32,marks33,marks34,marks35,marks36,marks37,marks38,marks39,marks40,marks41,marks42,marks43,marks44,marks45,marks46,marks47,marks48,marks49,marks50,marks51,marks52,marks53,marks54,marks55,marks56,marks57,marks58,marks59,marks60,marks61,marks62,marks63,marks64,marks65,marks66,marks67,marks68,marks69,marks70,marks71,marks72,marks73,marks74,marks75,marks76,marks77,marks78,marks79,marks80,marks81,marks82,marks83,marks84,marks85,marks86,marks87,marks88,marks89,marks90,marks91,marks92,marks93,marks94,marks95,marks96,marks97,marks98,marks99];

// ---- layout ----
const GRID_LEFT = 375, GRID_TOP = 164.5, CELL_W = 232.5, CELL_H = 245.9, NCOLS = 10, NROWS = 10;
const page = document.getElementById('page');

const t = document.createElement('div');
t.id = 'title';
t.textContent = chartTitle;
page.appendChild(t);

const toXY = arr => arr.map(p => ({x: p[0], y: p[1]}));

for (let i = 0; i < traces.length; i++) {
  const r = Math.floor(i / NCOLS), c = i % NCOLS;
  const x0 = Math.round(GRID_LEFT + c * CELL_W), x1 = Math.round(GRID_LEFT + (c + 1) * CELL_W);
  const y0 = Math.round(GRID_TOP + r * CELL_H), y1 = Math.round(GRID_TOP + (r + 1) * CELL_H);
  const w = x1 - x0, h = y1 - y0;
  const div = document.createElement('div');
  div.className = 'panel';
  div.style.left = x0 + 'px'; div.style.top = y0 + 'px';
  div.style.width = w + 'px'; div.style.height = h + 'px';
  const cv = document.createElement('canvas');
  cv.width = w; cv.height = h;
  cv.style.width = w + 'px'; cv.style.height = h + 'px';
  div.appendChild(cv);
  page.appendChild(div);
  const pxPerUnit = h / 100;
  new Chart(cv, {
    type: 'line',
    data: {
      datasets: [
        { data: toXY(marks[i]), showLine: false, pointStyle: 'crossRot', pointRadius: 21.5,
          pointBorderWidth: 5.4, pointBorderColor: '#000', pointBackgroundColor: 'rgba(0,0,0,0)',
          borderColor: '#000', order: 0 },
        { data: [{x: 0, y: dashLevels[i]}, {x: 100, y: dashLevels[i]}], borderColor: '#404040',
          borderWidth: 7.5, borderDash: [25, 25], borderCapStyle: 'butt', pointRadius: 0, tension: 0, order: 1 },
        { data: toXY(traces[i]), borderColor: '#808080',
          borderWidth: Math.max(4.8, noiseBand[i] * pxPerUnit), pointRadius: 0,
          cubicInterpolationMode: 'monotone', borderJoinStyle: 'round', borderCapStyle: 'round', order: 2 }
      ]
    },
    options: {
      responsive: false, animation: false, devicePixelRatio: 1, events: [],
      layout: { padding: 0, autoPadding: false },
      plugins: { legend: { display: false }, tooltip: { enabled: false }, title: { display: false } },
      scales: {
        x: { type: 'linear', min: 0, max: 100, display: false },
        y: { type: 'linear', min: 0, max: 100, display: false }
      }
    }
  });
  const lb = document.createElement('div');
  lb.className = 'lbl';
  lb.textContent = panelLabels[i];
  lb.style.left = (x0 + 9) + 'px';
  lb.style.top = (y0 + 8) + 'px';
  page.appendChild(lb);
}

// panel frame lines
for (let c = 0; c <= NCOLS; c++) {
  const d = document.createElement('div');
  d.className = 'gl';
  d.style.left = Math.round(GRID_LEFT + c * CELL_W - 2) + 'px';
  d.style.top = Math.round(GRID_TOP - 2) + 'px';
  d.style.width = '4px';
  d.style.height = Math.round(NROWS * CELL_H + 4) + 'px';
  page.appendChild(d);
}
for (let r = 0; r <= NROWS; r++) {
  const d = document.createElement('div');
  d.className = 'gl';
  d.style.left = Math.round(GRID_LEFT - 2) + 'px';
  d.style.top = Math.round(GRID_TOP + r * CELL_H - 2) + 'px';
  d.style.width = Math.round(NCOLS * CELL_W + 4) + 'px';
  d.style.height = '4px';
  page.appendChild(d);
}
</script>
</body>
</html>
